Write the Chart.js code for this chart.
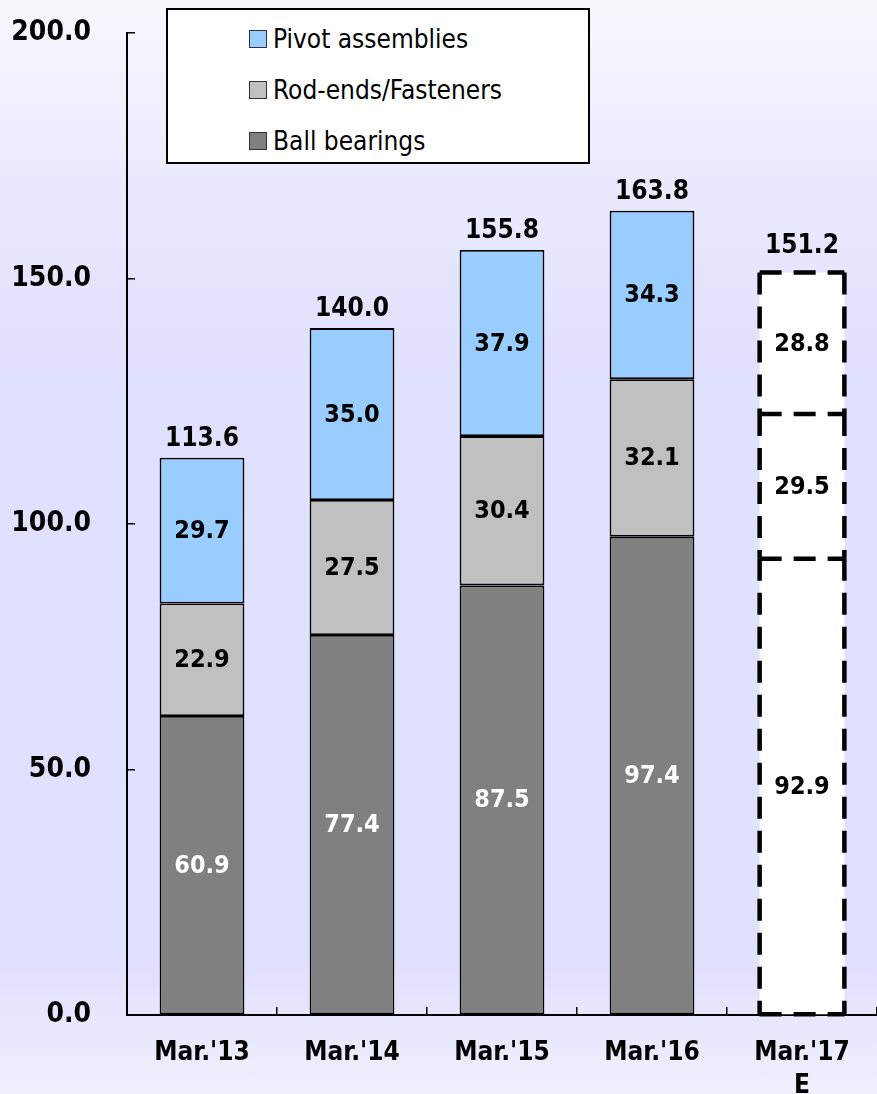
<!DOCTYPE html>
<html>
<head>
<meta charset="utf-8">
<script src="https://cdn.jsdelivr.net/npm/chart.js@4.4.1/dist/chart.umd.min.js"></script>
<style>
  html, body { margin: 0; padding: 0; width: 877px; height: 1094px; overflow: hidden; }
  body { background: linear-gradient(to bottom, #f7f7fd 0%, #e9e9fe 18%, #e0e0ff 35%, #e0e0ff 88%, #f0f0fd 100%); position: relative; }
  #wrap { position: absolute; left: 0; top: 0; width: 877px; height: 1094px; }
  #legend { position: absolute; left: 166px; top: 8px; width: 420px; height: 152px; background: #fff; border: 2px solid #000;
            font-family: "DejaVu Sans Condensed", "DejaVu Sans", sans-serif; font-size: 26px; color: #000; }
  .item { position: absolute; left: 81px; height: 30px; display: flex; align-items: center; }
  .sw { width: 16px; height: 16px; border: 1.5px solid #333; margin-right: 6px; box-sizing: content-box; }
</style>
</head>
<body>
<div id="wrap"><canvas id="c" width="877" height="1094"></canvas></div>
<div id="legend"></div>
<script>
const categories = [["Mar.'13"], ["Mar.'14"], ["Mar.'15"], ["Mar.'16"], ["Mar.'17", "E"]];
const ballBearings = [60.9, 77.4, 87.5, 97.4, 92.9];
const rodEnds = [22.9, 27.5, 30.4, 32.1, 29.5];
const pivotAssemblies = [29.7, 35.0, 37.9, 34.3, 28.8];
const totals = [113.6, 140.0, 155.8, 163.8, 151.2];
const yTicks = [0, 50, 100, 150, 200];
const seriesNames = ["Ball bearings", "Rod-ends/Fasteners", "Pivot assemblies"];
const seriesColors = ["#808080", "#c0c0c0", "#99ccff"];
const estimateIndex = 4;

const FONT = '"DejaVu Sans Condensed", "DejaVu Sans", sans-serif';

function fills(color) { return categories.map((_, i) => i === estimateIndex ? '#ffffff' : color); }
function borders() { return categories.map((_, i) => i === estimateIndex ? 0 : 1.8); }

const seriesData = [ballBearings, rodEnds, pivotAssemblies];
const datasets = seriesData.map((d, k) => ({
  label: seriesNames[k],
  data: d,
  backgroundColor: fills(seriesColors[k]),
  borderColor: '#000',
  borderWidth: borders(),
  borderSkipped: false,
  categoryPercentage: 1.0,
  barPercentage: 0.565
}));

function dashLine(ctx, x1, y1, x2, y2) {
  ctx.beginPath(); ctx.moveTo(x1, y1); ctx.lineTo(x2, y2); ctx.stroke();
}

const labelPlugin = {
  id: 'labels',
  afterDatasetsDraw(chart) {
    const ctx = chart.ctx;
    ctx.save();
    // dashed outline for estimate bar
    ctx.strokeStyle = '#000';
    ctx.lineWidth = 4.5;
    ctx.setLineDash([22, 12]);
    chart.data.datasets.forEach((ds, di) => {
      const el = chart.getDatasetMeta(di).data[estimateIndex];
      const p = el.getProps(['x', 'y', 'base', 'width'], true);
      const l = p.x - p.width / 2, r = p.x + p.width / 2;
      dashLine(ctx, l, p.y, r, p.y);
      dashLine(ctx, l, p.y, l, p.base);
      dashLine(ctx, r, p.y, r, p.base);
      if (di === 0) dashLine(ctx, l, p.base, r, p.base);
    });
    ctx.setLineDash([]);
    // segment labels
    ctx.textAlign = 'center';
    ctx.textBaseline = 'middle';
    chart.data.datasets.forEach((ds, di) => {
      chart.getDatasetMeta(di).data.forEach((el, i) => {
        const p = el.getProps(['x', 'y', 'base'], true);
        ctx.font = 'bold 25px ' + FONT;
        ctx.fillStyle = (di === 0 && i !== estimateIndex) ? '#ffffff' : '#000000';
        ctx.fillText(ds.data[i].toFixed(1), p.x, (p.y + p.base) / 2 + 1);
      });
    });
    // totals
    const topMeta = chart.getDatasetMeta(chart.data.datasets.length - 1);
    ctx.font = 'bold 26px ' + FONT;
    ctx.fillStyle = '#000';
    ctx.textBaseline = 'alphabetic';
    topMeta.data.forEach((el, i) => {
      const p = el.getProps(['x', 'y'], true);
      const off = i === estimateIndex ? 20 : 12;
      ctx.fillText(totals[i].toFixed(1), p.x, p.y - off);
    });
    ctx.restore();
  }
};

new Chart(document.getElementById('c'), {
  type: 'bar',
  data: { labels: categories, datasets },
  options: {
    responsive: false,
    animation: false,
    layout: { padding: 0 },
    plugins: { legend: { display: false }, tooltip: { enabled: false } },
    scales: {
      x: {
        stacked: true,
        grid: { display: true, drawOnChartArea: false, drawTicks: true, tickLength: -8, color: '#000', lineWidth: 1.5, offset: true },
        border: { display: true, color: '#000', width: 2 },
        ticks: { color: '#000', font: { family: FONT, size: 26, weight: 'bold', lineHeight: 1.25 }, padding: 30, maxRotation: 0, autoSkip: false },
        afterFit(s) { s.height = 79; s.paddingLeft = 0; s.paddingRight = 0; }
      },
      y: {
        stacked: true,
        min: 0, max: 200,
        afterBuildTicks(s) { s.ticks = yTicks.map(v => ({ value: v })); },
        grid: { display: true, drawOnChartArea: false, drawTicks: true, tickLength: -8, color: '#000', lineWidth: 1.5 },
        border: { display: true, color: '#000', width: 2 },
        ticks: { color: '#000', font: { family: FONT, size: 28, weight: 'bold' }, padding: 44, callback: v => Number(v).toFixed(1) },
        afterFit(s) { s.width = 127; s.paddingTop = 33; s.paddingBottom = 0; }
      }
    }
  },
  plugins: [labelPlugin]
});

// HTML legend (top series first)
const legend = document.getElementById('legend');
[2, 1, 0].forEach((k, row) => {
  const it = document.createElement('div');
  it.className = 'item';
  it.style.top = (14 + row * 51) + 'px';
  const sw = document.createElement('span');
  sw.className = 'sw';
  sw.style.background = seriesColors[k];
  const tx = document.createElement('span');
  tx.textContent = seriesNames[k];
  it.appendChild(sw); it.appendChild(tx);
  legend.appendChild(it);
});
</script>
</body>
</html>
